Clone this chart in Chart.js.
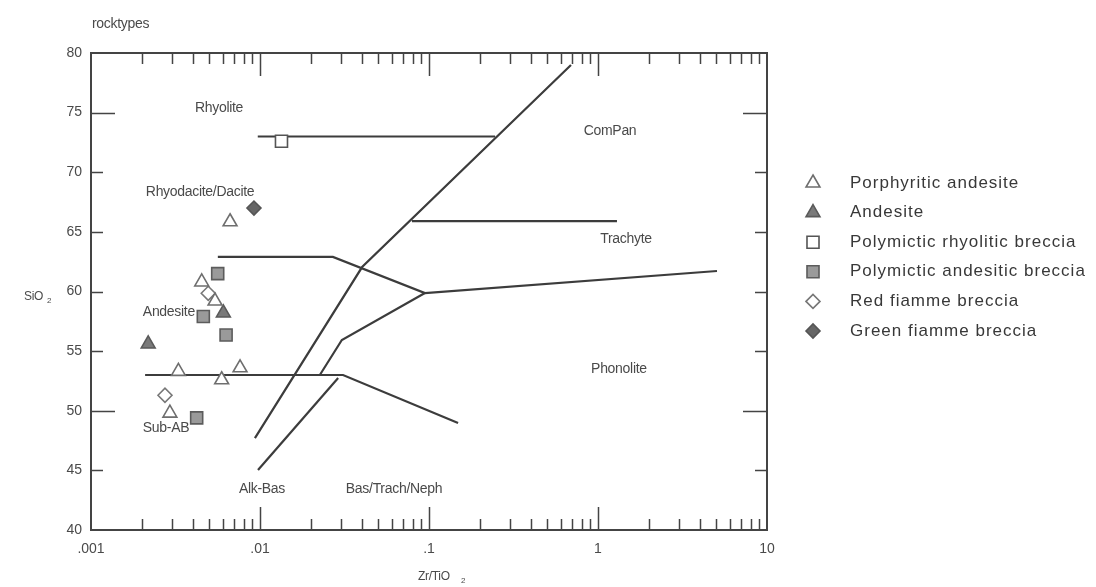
<!DOCTYPE html>
<html>
<head>
<meta charset="utf-8">
<title>rocktypes</title>
<script src="https://cdn.jsdelivr.net/npm/chart.js@4/dist/chart.umd.min.js"></script>
<style>
  html, body { margin: 0; padding: 0; background: #fff; }
  #wrap { position: relative; width: 1096px; height: 587px; }
</style>
</head>
<body>
<div id="wrap"><canvas id="c" width="1096" height="587"></canvas></div>
<script>
// Zr/TiO2 vs SiO2 classification (log x)
const xTickValues = [0.001, 0.01, 0.1, 1, 10];
const xTickLabels = ['.001', '.01', '.1', '1', '10'];
const yTickValues = [40, 45, 50, 55, 60, 65, 70, 75, 80];

// samples
const porphyriticAndesite = [
  { x: 0.00665, y: 65.85 }, { x: 0.00452, y: 60.8 }, { x: 0.00542, y: 59.2 },
  { x: 0.00329, y: 53.3 }, { x: 0.00593, y: 52.6 }, { x: 0.00762, y: 53.6 },
  { x: 0.00293, y: 49.8 }
];
const andesite = [{ x: 0.00607, y: 58.2 }, { x: 0.00218, y: 55.6 }];
const polymicticRhyoliticBreccia = [{ x: 0.0134, y: 72.6 }];
const polymicticAndesiticBreccia = [
  { x: 0.00562, y: 61.5 }, { x: 0.00462, y: 57.9 }, { x: 0.0063, y: 56.35 }, { x: 0.00422, y: 49.4 }
];
const redFiammeBreccia = [{ x: 0.00494, y: 59.85 }, { x: 0.00274, y: 51.3 }];
const greenFiammeBreccia = [{ x: 0.00921, y: 67.0 }];

// field boundaries
const bRhyoliteComPan = [{ x: 0.0097, y: 73 }, { x: 0.246, y: 73 }];
const bMainDiagonal = [{ x: 0.00933, y: 47.7 }, { x: 0.0402, y: 62.05 }, { x: 0.692, y: 79.0 }];
const bTrachyte = [{ x: 0.0792, y: 65.9 }, { x: 1.295, y: 65.9 }];
const bAndesiteTop = [{ x: 0.00563, y: 62.9 }, { x: 0.027, y: 62.9 }, { x: 0.0946, y: 59.87 }, { x: 5.06, y: 61.72 }];
const bSubAB = [{ x: 0.00209, y: 53 }, { x: 0.031, y: 53 }, { x: 0.1486, y: 48.97 }];
const bAlkBas = [{ x: 0.00973, y: 45.03 }, { x: 0.029, y: 52.75 }];
const bPhonolite = [{ x: 0.0226, y: 53 }, { x: 0.0305, y: 55.93 }, { x: 0.0946, y: 59.87 }];

// field names
const fieldNames = ['Rhyolite', 'ComPan', 'Rhyodacite/Dacite', 'Trachyte', 'Andesite', 'Phonolite', 'Sub-AB', 'Alk-Bas', 'Bas/Trach/Neph'];
const fieldAt = [
  { x: 0.00572, y: 75.4 }, { x: 1.178, y: 73.46 }, { x: 0.00442, y: 68.34 }, { x: 1.465, y: 64.4 },
  { x: 0.00289, y: 58.28 }, { x: 1.33, y: 53.5 }, { x: 0.00278, y: 48.55 }, { x: 0.01027, y: 43.44 },
  { x: 0.0621, y: 43.44 }
];

const FONT = "'Liberation Sans', Arial, sans-serif";
const LINE = '#3c3c3c';

function pts(label, data, style, radius, fill, stroke){
  return { label, data, pointStyle: style, pointRadius: radius, pointHoverRadius: radius,
    backgroundColor: fill, borderColor: stroke, borderWidth: 1.6, showLine: false, order: 1 };
}
function boundary(data){
  return { label: '', data, showLine: true, borderColor: LINE, borderWidth: 2.2,
    pointRadius: 0, tension: 0, fill: false, order: 2, isBoundary: true };
}

const samples = [
  pts('Porphyritic andesite', porphyriticAndesite, 'triangle', 8, '#ffffff', '#6e6e6e'),
  pts('Andesite', andesite, 'triangle', 8, '#7a7a7a', '#5a5a5a'),
  pts('Polymictic rhyolitic breccia', polymicticRhyoliticBreccia, 'rect', 8.5, '#ffffff', '#555555'),
  pts('Polymictic andesitic breccia', polymicticAndesiticBreccia, 'rect', 8.5, '#9a9a9a', '#5c5c5c'),
  pts('Red fiamme breccia', redFiammeBreccia, 'rectRot', 7, '#ffffff', '#777777'),
  pts('Green fiamme breccia', greenFiammeBreccia, 'rectRot', 7, '#666666', '#555555')
];

const lines = [bRhyoliteComPan, bMainDiagonal, bTrachyte, bAndesiteTop, bSubAB, bAlkBas, bPhonolite].map(boundary);

// frame, inward ticks, texts and legend
const decor = {
  id: 'decor',
  afterDraw(chart){
    const { ctx, chartArea: a, scales: { x, y } } = chart;
    ctx.save();
    ctx.strokeStyle = '#444';
    ctx.lineWidth = 2;
    ctx.strokeRect(a.left, a.top, a.right - a.left, a.bottom - a.top);

    ctx.lineWidth = 1.5;
    ctx.beginPath();
    for (let e = -3; e < 1; e++) {
      for (let k = 1; k <= 9; k++) {
        const v = k * Math.pow(10, e);
        const px = Math.round(x.getPixelForValue(v)) + 0.5;
        const len = k === 1 ? 23 : 11;
        if (v > 0.001) {
          ctx.moveTo(px, a.bottom); ctx.lineTo(px, a.bottom - len);
          ctx.moveTo(px, a.top); ctx.lineTo(px, a.top + len);
        }
      }
    }
    yTickValues.forEach(v => {
      if (v === 40 || v === 80) return;
      const py = Math.round(y.getPixelForValue(v)) + 0.5;
      const len = (v === 50 || v === 75) ? 24 : 12;
      ctx.moveTo(a.left, py); ctx.lineTo(a.left + len, py);
      ctx.moveTo(a.right, py); ctx.lineTo(a.right - len, py);
    });
    ctx.stroke();

    // field names
    ctx.fillStyle = '#4a4a4a';
    ctx.font = '14px ' + FONT;
    ctx.textAlign = 'center';
    ctx.textBaseline = 'middle';
    ctx.letterSpacing = '-0.3px';
    fieldNames.forEach((t, i) => {
      ctx.fillText(t, x.getPixelForValue(fieldAt[i].x), y.getPixelForValue(fieldAt[i].y));
    });

    // titles
    ctx.textAlign = 'left';
    ctx.fillText('rocktypes', 92, 24);
    ctx.font = '12px ' + FONT;
    ctx.fillText('SiO', 24, 297);
    ctx.fillText('Zr/TiO', 418, 577);
    ctx.font = '8px ' + FONT;
    ctx.fillText('2', 47, 301);
    ctx.fillText('2', 461, 581);

    // legend
    ctx.letterSpacing = '1px';
    ctx.font = '17px ' + FONT;
    ctx.fillStyle = '#383838';
    samples.forEach((ds, i) => {
      const cy = 183 + i * 29.6;
      ctx.fillStyle = ds.backgroundColor;
      ctx.strokeStyle = ds.borderColor;
      ctx.lineWidth = ds.borderWidth;
      Chart.helpers.drawPoint(ctx, { pointStyle: ds.pointStyle, radius: ds.pointRadius, borderWidth: ds.borderWidth, rotation: 0 }, 813, cy);
      ctx.fillStyle = '#383838';
      ctx.fillText(ds.label, 850, cy);
    });
    ctx.restore();
  }
};

new Chart(document.getElementById('c'), {
  type: 'scatter',
  data: { datasets: [...samples, ...lines] },
  plugins: [decor],
  options: {
    responsive: false,
    animation: false,
    events: [],
    layout: { padding: { left: 0, top: 53, right: 329, bottom: 0 } },
    plugins: { legend: { display: false }, tooltip: { enabled: false } },
    scales: {
      x: {
        type: 'logarithmic',
        min: 0.001, max: 10,
        afterBuildTicks: s => { s.ticks = xTickValues.map(v => ({ value: v, major: true })); },
        afterFit: s => { s.height = 57; },
        grid: { display: false, drawTicks: false },
        border: { display: false },
        ticks: {
          autoSkip: false, maxRotation: 0, padding: 11,
          color: '#4a4a4a', font: { family: FONT, size: 14 },
          callback: v => xTickLabels[xTickValues.indexOf(v)] ?? ''
        }
      },
      y: {
        min: 40, max: 80,
        afterBuildTicks: s => { s.ticks = yTickValues.map(v => ({ value: v })); },
        afterFit: s => { s.width = 91; },
        grid: { display: false, drawTicks: false },
        border: { display: false },
        ticks: { padding: 9, color: '#4a4a4a', font: { family: FONT, size: 14 } }
      }
    }
  }
});
</script>
</body>
</html>
